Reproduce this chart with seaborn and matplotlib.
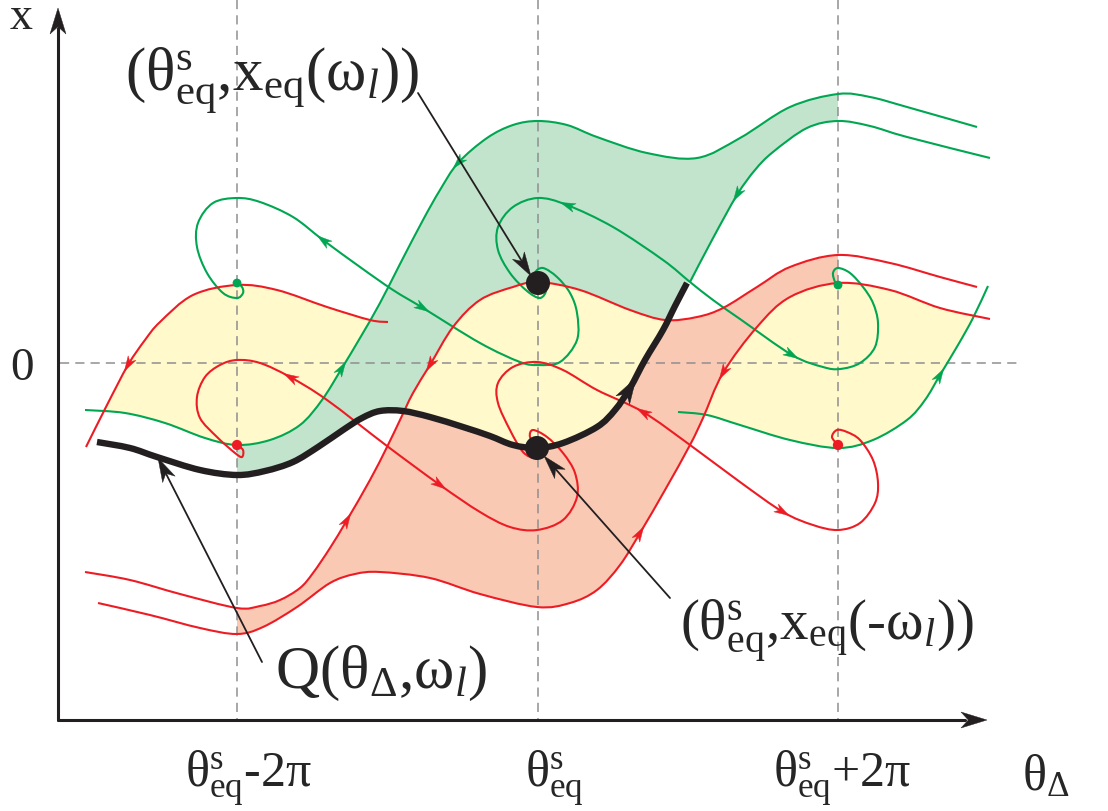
import numpy as np
import matplotlib.pyplot as plt
import seaborn as sns
from matplotlib.path import Path
from matplotlib.patches import PathPatch, Polygon

sns.set_style('white')
plt.rcParams['font.family'] = ['Liberation Serif', 'DejaVu Serif']
plt.rcParams['font.serif'] = ['Liberation Serif', 'DejaVu Serif']
plt.rcParams['mathtext.fontset'] = 'custom'
plt.rcParams['mathtext.rm'] = 'Liberation Serif'
plt.rcParams['mathtext.it'] = 'Liberation Serif:italic'
plt.rcParams['mathtext.bf'] = 'Liberation Serif:bold'
plt.rcParams['mathtext.default'] = 'rm'

GREEN = '#00a651'
RED = '#ed1c24'
GREEN_FILL = '#c2e3cc'
SALMON_FILL = '#f9c9b4'
YELLOW_FILL = '#fff9cc'
DASH = '#8f8f8f'

# phase portrait (theta to the right, x upwards -> smaller values)
# green separatrix through the saddle left of theta_eq (lower-left and upper-right branch)
green_sep_a = [(85, 410), (125, 413), (165, 423), (205, 438), (237, 445), (270, 440), (300, 425),
               (322, 400), (342, 368), (360, 338), (380, 303), (400, 264), (423, 220), (440, 190),
               (458, 163), (487, 138), (513, 125), (538, 121), (567, 125), (597, 137), (647, 153),
               (697, 158), (740, 138), (790, 107), (838, 94), (870, 97), (907, 107), (977, 127)]
# upper-right branch into the saddle right of theta_eq
green_sep_b = [(690, 282), (712, 240), (737, 195), (755, 170), (773, 152), (807, 128), (838, 121),
               (870, 126), (907, 137), (990, 158)]
# lower-left branch into the saddle right of theta_eq+2pi
green_lo_990 = [(678, 412), (707, 415), (740, 425), (790, 440), (838, 448), (873, 440), (907, 420),
                (925, 400), (940, 375), (958, 345), (973, 318), (988, 286)]
# unstable manifolds spiralling into the upper foci
green_spiral_a = [(237, 283), (242, 287), (243, 293), (237, 298), (223, 293), (207, 273), (197, 247),
                  (198, 223), (213, 203), (237, 198), (260, 202), (293, 217), (323, 240), (360, 267),
                  (393, 290), (423, 308), (480, 343), (520, 362), (538, 365), (560, 362), (577, 340),
                  (577, 313), (570, 293), (557, 277), (543, 268), (535, 273), (538, 283)]
green_spiral_b = [(538, 283), (546, 290), (540, 298), (527, 291), (510, 273), (498, 250), (498, 227),
                  (513, 207), (538, 198), (567, 205), (613, 227), (663, 260), (690, 282), (713, 300),
                  (740, 319), (792, 355), (823, 367), (840, 369), (860, 363), (875, 347), (878, 323),
                  (873, 303), (863, 287), (850, 273), (838, 268), (833, 273), (835, 282), (838, 285)]

red_sep_88 = [(86, 447), (107, 405), (128, 365), (145, 340), (160, 322), (193, 295), (237, 285),
              (277, 290), (327, 307), (370, 320), (388, 322)]
red_sep_387 = [(85, 572), (130, 580), (180, 594), (237, 608), (260, 606), (280, 600), (300, 588),
               (313, 573), (330, 548), (347, 520), (370, 480), (387, 447), (400, 420), (413, 393),
               (430, 365), (453, 327), (480, 300), (513, 287), (538, 282), (580, 290), (630, 310),
               (665, 320), (697, 317), (723, 308), (757, 287), (790, 267), (838, 255), (890, 263),
               (940, 277), (977, 287)]
red_sep_690 = [(98, 603), (150, 615), (200, 628), (237, 634), (263, 627), (297, 607), (330, 583),
               (355, 574), (380, 572), (430, 578), (480, 594), (537, 607), (570, 603), (597, 590),
               (620, 565), (640, 533), (665, 490), (690, 445), (703, 418), (723, 373), (757, 327),
               (790, 297), (838, 283), (890, 290), (940, 308), (990, 319)]
red_spiral_a = [(237, 445), (243, 450), (242, 457), (235, 453), (217, 437), (200, 418), (197, 397),
                (205, 377), (220, 365), (237, 360), (260, 363), (290, 377), (327, 400), (387, 446),
                (440, 485), (480, 512), (510, 527), (537, 530), (563, 520), (577, 497), (575, 473),
                (563, 453), (547, 437), (533, 430), (530, 437), (537, 447)]
red_spiral_b = [(537, 447), (543, 453), (535, 458), (523, 452), (510, 430), (498, 403), (498, 383),
                (513, 367), (537, 362), (563, 370), (597, 390), (643, 412), (690, 445), (740, 482),
                (783, 512), (813, 525), (838, 530), (860, 523), (875, 503), (878, 483), (873, 460),
                (860, 440), (847, 432), (837, 430), (832, 437), (838, 445)]

# Q(theta_delta, omega_l)
q_curve = [(97, 442), (130, 448), (157, 457), (200, 470), (237, 475), (265, 471), (293, 462),
           (318, 447), (343, 430), (362, 418), (380, 411), (403, 411), (430, 417), (463, 427),
           (490, 436), (513, 445), (537, 448), (563, 443), (597, 427), (615, 410), (630, 388),
           (645, 360), (663, 330), (675, 306), (687, 283)]

# arrows on trajectories: (curve, point, direction along the list)
flow_arrows = [
    (green_sep_a, (342, 368), 1), (green_sep_a, (458, 163), -1), (green_sep_b, (737, 195), -1),
    (green_lo_990, (940, 375), 1), (green_spiral_a, (323, 240), -1), (green_spiral_a, (423, 308), 1),
    (green_spiral_b, (567, 205), -1), (green_spiral_b, (792, 355), 1),
    (red_sep_88, (128, 365), -1), (red_sep_387, (347, 520), 1), (red_sep_387, (430, 365), -1),
    (red_sep_690, (640, 533), 1), (red_sep_690, (723, 373), -1),
    (red_spiral_a, (290, 377), -1), (red_spiral_a, (440, 485), 1),
    (red_spiral_b, (643, 412), -1), (red_spiral_b, (783, 512), 1),
]
green_curves = [green_sep_a, green_sep_b, green_lo_990, green_spiral_a, green_spiral_b]
red_curves = [red_sep_88, red_sep_387, red_sep_690, red_spiral_a, red_spiral_b]

green_focus_x = [237, 838]
green_focus_y = [283, 285]
red_focus_x = [237, 838]
red_focus_y = [445, 445]
eq_x = [538, 537]
eq_y = [283, 448]

cells = [237, 538, 838]
zero_level = 363
tick_text = [r'$\theta^{s}_{eq}$-2π', r'$\theta^{s}_{eq}$', r'$\theta^{s}_{eq}$+2π']
tick_left = [185, 525, 773]

pointers = [((418, 93), (531, 276)), ((670, 598), (544, 456)), ((262, 662), (158, 458))]


def bez(pts):
    P = np.asarray(pts, float)
    E = np.vstack([P[:1], P, P[-1:]])
    segs = []
    for i in range(len(P) - 1):
        c1 = P[i] + (E[i + 2] - E[i]) / 6.0
        c2 = P[i + 1] - (E[i + 3] - E[i + 1]) / 6.0
        segs.append((P[i], c1, c2, P[i + 1]))
    return segs


def piece(pts, a, b):
    i, j = pts.index(a), pts.index(b)
    segs = bez(pts)
    if i <= j:
        return segs[i:j]
    return [(s[3], s[2], s[1], s[0]) for s in reversed(segs[j:i])]


def region(*parts):
    verts, codes = [], []
    for part in parts:
        if isinstance(part, tuple):
            verts.append(part)
            codes.append(Path.LINETO)
        else:
            verts.append(part[0][0])
            codes.append(Path.LINETO)
            for s in part:
                verts += [s[1], s[2], s[3]]
                codes += [Path.CURVE4] * 3
    codes[0] = Path.MOVETO
    verts.append(verts[0])
    codes.append(Path.CLOSEPOLY)
    return Path(np.array(verts, float), codes)


def curve_path(pts):
    segs = bez(pts)
    verts = [segs[0][0]]
    codes = [Path.MOVETO]
    for s in segs:
        verts += [s[1], s[2], s[3]]
        codes += [Path.CURVE4] * 3
    return Path(np.array(verts, float), codes)


def head(ax, tip, d, length, width, color, z=6):
    d = np.asarray(d, float)
    d = d / np.hypot(*d)
    n = np.array([-d[1], d[0]])
    tip = np.asarray(tip, float)
    back = tip - length * d
    poly = [tip, back + n * width / 2, tip - 0.72 * length * d, back - n * width / 2]
    ax.add_patch(Polygon(poly, closed=True, fc=color, ec=color, lw=0.3, zorder=z))


fig = plt.figure(figsize=(11.08, 8.11), dpi=100)
ax = fig.add_axes([0, 0, 1, 1])
ax.set_xlim(0, 1108)
ax.set_ylim(811, 0)
ax.axis('off')

# basins
ax.add_patch(PathPatch(region(piece(green_sep_a, (237, 445), (838, 94)),
                              piece(green_sep_b, (838, 121), (690, 282)),
                              piece(q_curve, (687, 283), (237, 475))),
                       fc=GREEN_FILL, ec='none', zorder=1))
ax.add_patch(PathPatch(region(piece(red_sep_387, (237, 608), (838, 255)),
                              piece(red_sep_690, (838, 283), (237, 634))),
                       fc=SALMON_FILL, ec='none', zorder=1))

yellow_parts = [
    (piece(red_sep_88, (86, 447), (388, 322)), piece(green_sep_a, (85, 410), (458, 163))),
    (piece(red_sep_387, (387, 447), (697, 317)), piece(q_curve, (343, 430), (687, 283))),
    (piece(red_sep_690, (690, 445), (990, 319)), piece(green_lo_990, (678, 412), (988, 286))),
]
for upper, lower in yellow_parts:
    x0, x1 = upper[0][0][0], upper[-1][3][0]
    patch = PathPatch(region(upper, (x1, 800.0), (x0, 800.0)), fc=YELLOW_FILL, ec='none', zorder=2)
    ax.add_patch(patch)
    c0, c1 = lower[0][0][0], lower[-1][3][0]
    patch.set_clip_path(region(lower, (c1, -10.0), (c0, -10.0)), ax.transData)

# guide lines
ax.vlines(cells, 0, 720, colors=DASH, lw=1.1, linestyles=(0, (6, 4)), zorder=3)
ax.hlines(zero_level, 60, 1020, colors=DASH, lw=1.1, linestyles=(0, (6, 4)), zorder=3)

# trajectories
for pts in green_curves:
    ax.add_patch(PathPatch(curve_path(pts), fc='none', ec=GREEN, lw=1.5, zorder=4))
for pts in red_curves:
    ax.add_patch(PathPatch(curve_path(pts), fc='none', ec=RED, lw=1.5, zorder=4))
ax.add_patch(PathPatch(curve_path(q_curve), fc='none', ec='#231f20', lw=4.6, zorder=5,
                       capstyle='butt'))

for pts, p, sgn in flow_arrows:
    P = np.asarray(pts, float)
    i = pts.index(p)
    d = (P[min(i + 1, len(P) - 1)] - P[max(i - 1, 0)]) * sgn
    d = d / np.hypot(*d)
    col = GREEN if any(pts is c for c in green_curves) else RED
    head(ax, P[i] + d * 7, d, 15, 9, col)
qa = q_curve.index((630, 388))
qd = np.subtract(q_curve[qa + 1], q_curve[qa - 1])
qd = qd / np.hypot(*qd)
head(ax, np.add(q_curve[qa], qd * 12), qd, 26, 16, '#231f20')

# equilibria
sns.scatterplot(x=green_focus_x, y=green_focus_y, color=GREEN, s=40, edgecolor='none', ax=ax, zorder=7)
sns.scatterplot(x=red_focus_x, y=red_focus_y, color=RED, s=55, edgecolor='none', ax=ax, zorder=7)
sns.scatterplot(x=eq_x, y=eq_y, color='#231f20', s=300, edgecolor='none', ax=ax, zorder=8)

# pointers
for (sx, sy), (tx, ty) in pointers:
    d = np.array([tx - sx, ty - sy], float)
    d = d / np.hypot(*d)
    ax.plot([sx, tx - d[0] * 12], [sy, ty - d[1] * 12], color='#231f20', lw=1.3, zorder=9)
    head(ax, (tx, ty), d, 24, 14, '#231f20', z=9)

# axes
ax.plot([58, 58], [720, 28], color='#231f20', lw=2.2, zorder=9)
head(ax, (58, 8), (0, -1), 26, 16, '#231f20', z=9)
ax.plot([58, 965], [720, 720], color='#231f20', lw=2.2, zorder=9)
head(ax, (987, 720), (1, 0), 26, 16, '#231f20', z=9)

# text
ax.text(10, 29, 'x', fontsize=33, va='baseline', ha='left')
ax.text(10, 380, '0', fontsize=34, va='baseline', ha='left')
ax.text(125, 90, r'$(\theta^{s}_{eq}{,}x_{eq}(\omega_{\mathit{l}}))$', fontsize=44, va='baseline')
ax.text(680, 640, r'$(\theta^{s}_{eq}{,}x_{eq}($-$\omega_{\mathit{l}}))$', fontsize=41, va='baseline')
ax.text(275, 688, r'$Q(\theta_{\Delta}{,}\omega_{\mathit{l}})$', fontsize=44, va='baseline')
for left, txt in zip(tick_left, tick_text):
    ax.text(left, 787, txt, fontsize=36, va='baseline', ha='left')
ax.text(1022, 790, r'$\theta_{\Delta}$', fontsize=36, va='baseline', ha='left')

fig.savefig('out.png', dpi=100)
